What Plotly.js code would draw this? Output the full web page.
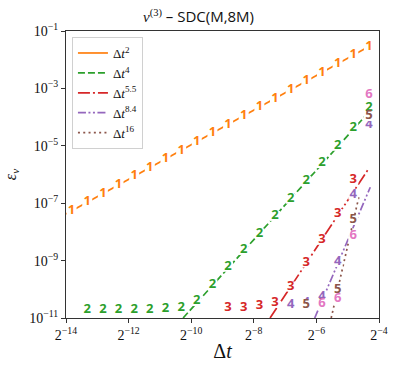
<!DOCTYPE html>
<html>
<head>
<meta charset="utf-8">
<script src="https://cdn.plot.ly/plotly-3.0.1.min.js"></script>
<style>
  html, body { margin: 0; padding: 0; background: #fff; }
  #plot { width: 397px; height: 365px; }
</style>
</head>
<body>
<div id="plot"></div>
<script>
// time steps (ascending), shared by every series
const dt = [6.905e-5, 9.766e-5, 1.381e-4, 1.953e-4, 2.762e-4, 3.906e-4, 5.524e-4, 7.813e-4,
            1.105e-3, 1.563e-3, 2.210e-3, 3.125e-3, 4.419e-3, 6.25e-3, 8.839e-3, 1.25e-2,
            1.768e-2, 2.5e-2, 3.536e-2, 5e-2];

// errors, one array per label ("1" .. "6")
const err1 = [5.5e-8, 1.1e-7, 2.2e-7, 4.4e-7, 8.8e-7, 1.75e-6, 3.5e-6, 7.0e-6, 1.4e-5, 2.8e-5,
              5.4e-5, 1.12e-4, 2.25e-4, 4.5e-4, 9.0e-4, 1.8e-3, 3.6e-3, 7.2e-3, 1.44e-2, 2.88e-2];
const err2 = [null, 1.9e-11, 1.9e-11, 1.9e-11, 1.9e-11, 2.0e-11, 2.1e-11, 2.35e-11, 3.9e-11, 1.5e-10,
              6.1e-10, 2.35e-9, 8.9e-9, 3.6e-8, 1.43e-7, 5.9e-7, 2.5e-6, 1.0e-5, 4.2e-5, 2.07e-4];
const err3 = [null, null, null, null, null, null, null, null, null, null,
              2.36e-11, 2.36e-11, 2.6e-11, 3.4e-11, 1.25e-10, 8.6e-10, 5.3e-9, 4.2e-8, 6.8e-7, 8.6e-5];
const err4 = [null, null, null, null, null, null, null, null, null, null,
              null, null, null, null, 3.0e-11, 3.3e-11, 5.5e-11, 8.9e-10, 2.0e-7, 5.6e-5];
const err5 = [null, null, null, null, null, null, null, null, null, null,
              null, null, null, null, null, 3.0e-11, 3.2e-11, 1.0e-10, 2.6e-8, 1.09e-4];
const err6 = [null, null, null, null, null, null, null, null, null, null,
              null, null, null, null, null, null, 3.1e-11, 4.85e-11, 7.2e-9, 5.9e-4];

// reference slopes: two end points each
const refNames = ['Δ<i>t</i><sup>2</sup>', 'Δ<i>t</i><sup>4</sup>', 'Δ<i>t</i><sup>5.5</sup>',
                  'Δ<i>t</i><sup>8.4</sup>', 'Δ<i>t</i><sup>16</sup>'];
const refDt = [[6.1035e-5, 0.05], [8.16e-4, 0.05], [5.60e-3, 0.05], [1.505e-2, 0.0515], [2.168e-2, 0.0404]];
const refErr = [[4.2e-8, 2.88e-2], [1e-11, 1.5e-4], [1e-11, 1.65e-6], [1e-11, 3.6e-7], [1e-11, 1.93e-7]];

const xTickExp = [-14, -12, -10, -8, -6, -4];
const yTickExp = [-1, -3, -5, -7, -9, -11];

const colors = ['#ff7f0e', '#2ca02c', '#d62728', '#9467bd', '#8c564b', '#e377c2'];
const dashes = ['solid', '7px,3px', '12px,3px,2px,3px', '8px,2.5px,2px,2.5px,2px,2.5px', '2px,3.3px'];
const serif = 'Liberation Serif, DejaVu Serif, serif';

let data = [];
refNames.forEach((name, i) => {
  data.push({
    x: refDt[i], y: refErr[i],
    mode: 'lines', name: name,
    line: { color: colors[i], width: 1.7, dash: dashes[i] },
    hoverinfo: 'skip'
  });
});

[err1, err2, err3, err4, err5, err6].forEach((err, i) => {
  data.push({
    x: dt, y: err,
    mode: 'markers+text',
    text: dt.map(() => String(i + 1)),
    textposition: 'middle center',
    textfont: { family: 'Open Sans, DejaVu Sans, sans-serif', size: 13, color: colors[i], weight: 'bold' },
    marker: { symbol: 'square', size: 10, color: 'white' },
    showlegend: false,
    hoverinfo: 'skip'
  });
});

const layout = {
  width: 397, height: 365,
  margin: { l: 66, r: 18, t: 31, b: 47 },
  paper_bgcolor: 'white', plot_bgcolor: 'white',
  title: {
    text: '<span style="font-family:Liberation Serif"><i>ν</i><sup>(3)</sup></span> – SDC(M,8M)',
    font: { family: 'Open Sans, DejaVu Sans, sans-serif', size: 15, color: '#111' },
    x: 0.5, xref: 'container', xanchor: 'center',
    y: 0.953, yref: 'container', yanchor: 'middle'
  },
  xaxis: {
    type: 'log',
    range: [Math.log10(Math.pow(2, -14)), Math.log10(Math.pow(2, -4))],
    tickvals: xTickExp.map(e => Math.pow(2, e)),
    ticktext: xTickExp.map(e => '2<sup>−' + (-e) + '</sup>'),
    ticks: 'outside', ticklen: 4, tickcolor: '#333',
    showline: true, mirror: true, linecolor: '#333', linewidth: 1,
    showgrid: false, zeroline: false,
    tickfont: { family: serif, size: 14, color: '#111' },
    title: { text: 'Δ<i>t</i>', font: { family: serif, size: 20, color: '#111' }, standoff: 2 }
  },
  yaxis: {
    type: 'log',
    range: [-11, -1],
    tickvals: yTickExp.map(e => Math.pow(10, e)),
    ticktext: yTickExp.map(e => '10<sup>−' + (-e) + '</sup>'),
    ticks: 'outside', ticklen: 4, tickcolor: '#333',
    showline: true, mirror: true, linecolor: '#333', linewidth: 1,
    showgrid: false, zeroline: false,
    tickfont: { family: serif, size: 14, color: '#111' },
    title: { text: '<i>ε</i><sub><i>v</i></sub>', font: { family: serif, size: 16, color: '#111' }, standoff: 8 }
  },
  legend: {
    x: 0.019, y: 0.979, xanchor: 'left', yanchor: 'top',
    bgcolor: 'rgba(255,255,255,0.85)', bordercolor: '#d0d0d0', borderwidth: 1,
    font: { family: serif, size: 13, color: '#111' },
    itemwidth: 30, tracegroupgap: 0
  },
  showlegend: true
};

Plotly.newPlot('plot', data, layout, { staticPlot: true, displayModeBar: false });
</script>
</body>
</html>
